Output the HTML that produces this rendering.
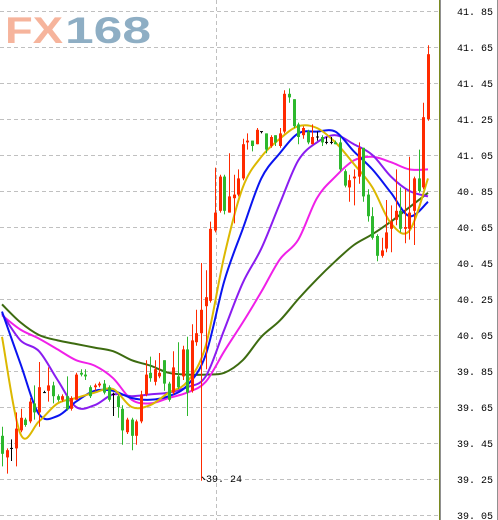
<!DOCTYPE html>
<html>
<head>
<meta charset="utf-8">
<style>
  html,body{margin:0;padding:0;background:#fff;}
  svg{display:block;}
</style>
</head>
<body>
<svg id="chart" width="498" height="520" viewBox="0 0 498 520" xmlns="http://www.w3.org/2000/svg">
  <rect x="0" y="0" width="498" height="520" fill="#ffffff"/>
  <g id="grid"></g>
  <g>
    <text x="5" y="43" font-family="Liberation Sans, sans-serif" font-weight="bold" font-size="37" fill="#f6b49c" textLength="58" lengthAdjust="spacingAndGlyphs">FX</text>
    <text x="65" y="43" font-family="Liberation Sans, sans-serif" font-weight="bold" font-size="37" fill="#8eaec4" textLength="86" lengthAdjust="spacingAndGlyphs">168</text>
  </g>
  <g id="mas"></g>
  <g id="candles"></g>
  <g id="axis"></g>
  <g id="annot"></g>
</svg>
<script>
const yTicks = [41.85,41.65,41.45,41.25,41.05,40.85,40.65,40.45,40.25,40.05,39.85,39.65,39.45,39.25,39.05];
const tickLabels = ["41.85","41.65","41.45","41.25","41.05","40.85","40.65","40.45","40.25","40.05","39.85","39.65","39.45","39.25","39.05"];
const opens = [39.49,39.37,39.42,39.42,39.52,39.58,39.57,39.67,39.62,39.73,39.74,39.77,39.71,39.69,39.71,39.64,39.69,39.84,39.83,39.76,39.76,39.77,39.78,39.76,39.72,39.71,39.64,39.51,39.58,39.49,39.57,39.72,39.84,39.79,39.82,39.91,39.78,39.73,39.82,39.82,39.97,39.74,40.01,40.06,40.21,40.24,40.63,40.74,40.93,40.73,40.81,40.83,40.92,41.12,41.13,41.11,41.18,41.17,41.10,41.16,41.10,41.18,41.39,41.36,41.22,41.16,41.18,41.11,41.15,41.15,41.12,41.12,41.12,41.12,40.96,40.87,40.92,40.93,41.09,40.83,40.71,40.60,40.49,40.53,40.64,40.69,40.74,40.64,40.64,40.74,40.92,40.87,41.25];
const highs = [39.54,39.42,39.47,39.62,39.64,39.59,39.70,39.77,39.90,39.74,39.87,39.79,39.72,39.72,39.82,39.71,39.84,39.86,39.86,39.77,39.78,39.79,39.80,39.77,39.73,39.72,39.66,39.59,39.59,39.58,39.74,39.91,39.93,39.91,39.95,39.91,39.79,39.96,40.01,39.99,40.04,40.11,40.19,40.45,40.41,40.68,40.98,40.94,40.94,41.06,40.94,40.97,41.14,41.17,41.13,41.20,41.18,41.17,41.16,41.16,41.20,41.41,41.42,41.36,41.23,41.21,41.19,41.22,41.18,41.16,41.15,41.15,41.13,41.15,40.97,40.94,40.97,41.12,41.09,40.86,40.76,40.61,40.59,40.80,40.77,40.97,40.87,40.86,41.04,40.93,41.08,41.34,41.66];
const lows = [39.32,39.28,39.35,39.32,39.51,39.54,39.56,39.58,39.54,39.73,39.68,39.67,39.68,39.68,39.63,39.63,39.69,39.82,39.80,39.70,39.74,39.76,39.72,39.68,39.60,39.59,39.44,39.50,39.41,39.44,39.56,39.71,39.79,39.77,39.81,39.74,39.68,39.72,39.75,39.80,39.60,39.73,39.99,39.24,39.86,40.23,40.62,40.73,40.72,40.73,40.67,40.82,40.91,41.08,41.07,41.11,41.17,41.06,41.09,41.10,41.09,41.17,41.34,41.20,41.11,41.14,41.11,41.11,41.13,41.10,41.11,41.11,41.11,40.96,40.87,40.79,40.77,40.89,40.79,40.68,40.58,40.46,40.48,40.51,40.51,40.66,40.62,40.56,40.58,40.55,40.84,40.86,41.24];
const closes = [39.39,39.41,39.42,39.53,39.59,39.55,39.68,39.62,39.76,39.73,39.77,39.71,39.69,39.71,39.64,39.70,39.83,39.83,39.82,39.71,39.77,39.78,39.73,39.69,39.72,39.65,39.52,39.58,39.49,39.57,39.72,39.83,39.81,39.86,39.84,39.78,39.69,39.87,39.76,39.97,39.73,40.02,40.06,40.19,40.26,40.64,40.73,40.93,40.74,40.82,40.83,40.92,41.11,41.13,41.10,41.19,41.18,41.08,41.15,41.12,41.17,41.39,41.37,41.21,41.15,41.20,41.12,41.15,41.15,41.12,41.12,41.12,41.11,40.97,40.88,40.91,40.93,41.09,40.82,40.71,40.59,40.49,40.52,40.62,40.68,40.74,40.64,40.65,40.73,40.92,40.85,41.26,41.61];
// moving averages sampled every 4th candle (index 0,4,...,92)
const maIndex = [0,4,8,12,16,20,24,28,32,36,40,44,48,52,56,60,64,68,72,76,80,84,88,92];
const maYellow = [40.04,39.50,39.57,39.67,39.70,39.73,39.75,39.65,39.66,39.73,39.79,39.99,40.49,40.87,41.04,41.14,41.21,41.20,41.12,41.00,40.87,40.67,40.63,40.92];
const maBlue = [40.18,39.89,39.61,39.60,39.68,39.74,39.74,39.70,39.69,39.71,39.77,39.94,40.35,40.64,40.92,41.06,41.17,41.18,41.18,41.07,40.97,40.84,40.71,40.79];
const maPurple = [40.17,40.02,39.96,39.80,39.65,39.66,39.72,39.71,39.72,39.73,39.76,39.82,40.08,40.34,40.53,40.78,41.02,41.12,41.16,41.11,41.05,40.93,40.85,40.82];
const maMagenta = [40.16,40.08,40.03,39.97,39.91,39.88,39.81,39.69,39.67,39.70,39.73,39.79,39.96,40.12,40.29,40.47,40.58,40.81,40.93,41.02,41.04,41.01,40.97,40.97];
const maGreen = [40.22,40.12,40.05,40.02,40.00,39.98,39.96,39.91,39.88,39.84,39.83,39.83,39.84,39.91,40.04,40.13,40.25,40.36,40.46,40.55,40.61,40.68,40.76,40.84];
const lowLabel = "39. 24";

const NS = "http://www.w3.org/2000/svg";
const PLOT_R = 438;
function yScale(p){ return 11 + (41.85 - p) * 180; }
function xScale(i){ return 2 + i * (426 / (opens.length - 1)); }
function mk(tag, attrs, parent){
  const e = document.createElementNS(NS, tag);
  for (const k in attrs) e.setAttribute(k, attrs[k]);
  parent.appendChild(e);
  return e;
}
function smoothPath(pts){
  let d = 'M' + pts[0][0].toFixed(1) + ',' + pts[0][1].toFixed(1);
  for (let i = 0; i < pts.length - 1; i++) {
    const p0 = pts[Math.max(0,i-1)], p1 = pts[i], p2 = pts[i+1], p3 = pts[Math.min(pts.length-1,i+2)];
    const c1x = p1[0] + (p2[0]-p0[0])/6, c1y = p1[1] + (p2[1]-p0[1])/6;
    const c2x = p2[0] - (p3[0]-p1[0])/6, c2y = p2[1] - (p3[1]-p1[1])/6;
    d += ' C' + c1x.toFixed(1) + ',' + c1y.toFixed(1) + ' ' + c2x.toFixed(1) + ',' + c2y.toFixed(1) + ' ' + p2[0].toFixed(1) + ',' + p2[1].toFixed(1);
  }
  return d;
}
const grid = document.getElementById('grid');
yTicks.forEach((t) => {
  const y = Math.round(yScale(t)) + 0.5;
  const l = mk('line', {x1:0, x2:PLOT_R, y1:y, y2:y, stroke:'#c0c0c0', 'stroke-dasharray':'4,3', 'stroke-width':1}, grid);
  
  
});
const vg = mk('line', {x1:216.5, x2:216.5, y1:0, y2:520, stroke:'#c0c0c0', 'stroke-dasharray':'4,3', 'stroke-width':1}, grid);



const mas = document.getElementById('mas');
const maSeries = [[maGreen,'#3d6b10','ma-dark-green'],[maMagenta,'#f020e8','ma-magenta'],[maPurple,'#8a1cf0','ma-purple'],[maBlue,'#0a14f0','ma-blue'],[maYellow,'#dcb800','ma-yellow']];
maSeries.forEach(([vals,col,name]) => {
  const pts = vals.map((v,k) => [xScale(maIndex[k]), yScale(v)]);
  const pl = mk('path', {d:smoothPath(pts), fill:'none', stroke:col, 'stroke-width':2, 'stroke-linejoin':'round'}, mas);
  
  
});

const cg = document.getElementById('candles');
opens.forEach((o,i) => {
  const c = closes[i];
  const col = c > o ? '#ff2a00' : (c < o ? '#2db82d' : '#000000');
  const x = Math.round(xScale(i));
  const g = mk('g', {}, cg);
  
  
  mk('line', {x1:x+0.5, x2:x+0.5, y1:yScale(highs[i]), y2:yScale(lows[i]), stroke:col, 'stroke-width':1}, g);
  const top = yScale(Math.max(o,c)), bot = yScale(Math.min(o,c));
  if (c === o) {
    mk('rect', {x:x-1, y:top-0.5, width:3, height:1, fill:col}, g);
  } else {
    mk('rect', {x:x-1, y:top, width:3, height:Math.max(1,bot-top), fill:col}, g);
  }
});

const ax = document.getElementById('axis');
mk('rect', {x:PLOT_R+1, y:0, width:60, height:520, fill:'#ffffff'}, ax);
const a1 = mk('line', {x1:439.5, x2:439.5, y1:0, y2:520, stroke:'#7a8a20', 'stroke-width':1}, ax);


mk('line', {x1:440.5, x2:440.5, y1:0, y2:520, stroke:'#909090', 'stroke-width':1}, ax);
mk('line', {x1:497.5, x2:497.5, y1:0, y2:520, stroke:'#909090', 'stroke-width':1}, ax);
yTicks.forEach((t,k) => {
  const y = yScale(t);
  const tx = mk('text', {x:457, y:y+4, 'font-family':'Liberation Mono, monospace', 'font-size':'10', fill:'#000'}, ax);
  
  
  tx.textContent = tickLabels[k].replace('.', '. ');
});

const an = document.getElementById('annot');
let li = 0;
lows.forEach((v,i) => { if (v < lows[li]) li = i; });
const lx = Math.round(xScale(li)), ly = yScale(lows[li]);
mk('line', {x1:lx+1, y1:ly-4, x2:lx+4, y2:ly-1, stroke:'#000', 'stroke-width':1}, an);
const lt = mk('text', {x:lx+5, y:ly+1, 'font-family':'Liberation Mono, monospace', 'font-size':'10', fill:'#000'}, an);


lt.textContent = lowLabel;
</script>
</body>
</html>
